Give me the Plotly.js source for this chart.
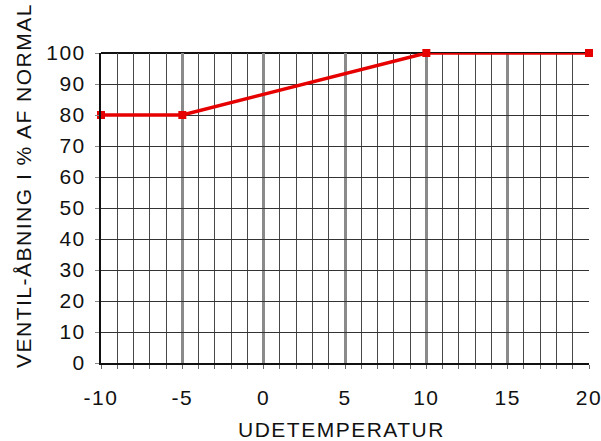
<!DOCTYPE html>
<html>
<head>
<meta charset="utf-8">
<script src="https://cdn.plot.ly/plotly-3.0.1.min.js"></script>
<style>
html,body{margin:0;padding:0;background:#fff;}
#chart{width:601px;height:441px;}
.xtick text,.ytick text,.annotation-text{letter-spacing:1.5px;}
</style>
</head>
<body>
<div id="chart"></div>
<script>
const temperature = [-10, -5, 10, 20];
const valveOpening = [80, 80, 100, 100];
const xTickVals = [-10, -5, 0, 5, 10, 15, 20];
const xTickText = ["-10", "-5", "0", "5", "10", "15", "20"];
const xTitle = "UDETEMPERATUR";
const yTitle = "VENTIL-ÅBNING I % AF NORMAL";

const font = {family: "Liberation Sans, Arial, sans-serif", size: 21, color: "#111"};

const trace = {
  x: temperature, y: valveOpening,
  type: "scatter", mode: "lines+markers",
  line: {color: "#e60000", width: 3.5},
  marker: {color: "#e60000", size: 8, symbol: "square"},
  cliponaxis: false
};

const layout = {
  width: 601, height: 441,
  margin: {l: 101, r: 12, t: 53, b: 78},
  paper_bgcolor: "#fff", plot_bgcolor: "#fff",
  showlegend: false,
  font: font,
  xaxis: {
    range: [-10, 20], tickmode: "array", tickvals: xTickVals, ticktext: xTickText,
    showgrid: true, gridcolor: "#8a8a8a", gridwidth: 3,
    minor: {dtick: 1, tick0: -10, showgrid: true, gridcolor: "#484848", gridwidth: 1, ticks: "outside", ticklen: 4, tickcolor: "#666"},
    ticks: "outside", ticklen: 4, tickcolor: "#666",
    ticklabelstandoff: 11,
    ticklabeloverflow: "allow",
    showline: true, linecolor: "#111", linewidth: 2,
    zeroline: false, tickfont: font
  },
  yaxis: {
    range: [0, 100], dtick: 10,
    showgrid: true, gridcolor: "#333", gridwidth: 1,
    ticks: "outside", ticklen: 4, tickcolor: "#888",
    ticklabelstandoff: 5,
    ticklabeloverflow: "allow",
    showline: true, linecolor: "#111", linewidth: 2, mirror: false,
    zeroline: false, tickfont: font
  },
  shapes: [
    {type: "line", xref: "paper", yref: "paper", x0: 0, x1: 1, y0: 1, y1: 1, line: {color: "#111", width: 2}, layer: "below"}
  ],
  annotations: [
    {text: xTitle, xref: "paper", yref: "paper", x: 0.492, y: -0.216, showarrow: false, font: font, xanchor: "center", yanchor: "middle"},
    {text: yTitle, xref: "paper", yref: "paper", x: -0.16, y: 0.574, showarrow: false, font: font, textangle: -90, xanchor: "center", yanchor: "middle"}
  ]
};

Plotly.newPlot("chart", [trace], layout, {displayModeBar: false, staticPlot: true});
</script>
</body>
</html>
